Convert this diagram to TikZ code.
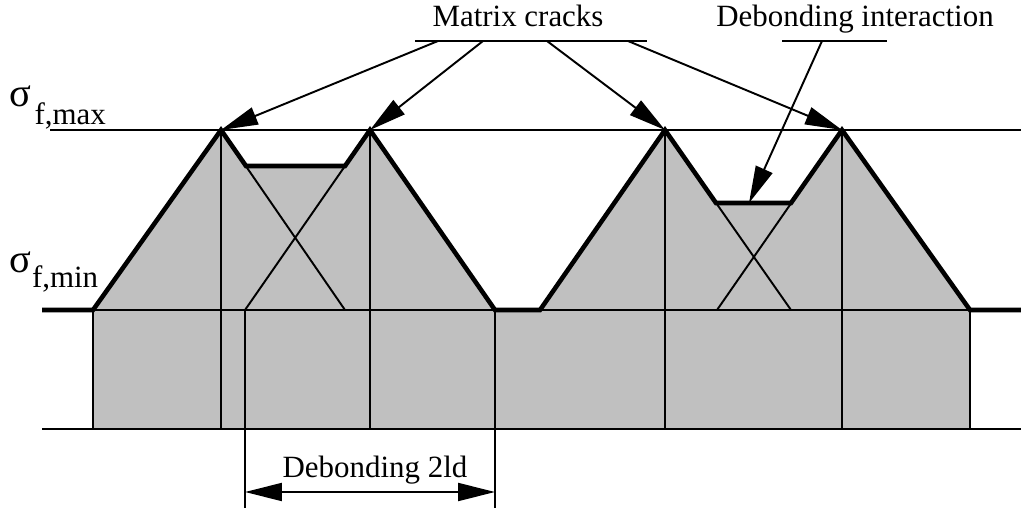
\documentclass[tikz,border=0pt]{standalone}
\usepackage{fontspec}
\setmainfont{Liberation Serif}
\usetikzlibrary{arrows.meta}
\definecolor{fibregray}{RGB}{192,192,192}
\tikzset{
  thinline/.style={line width=1.1pt},
  profile/.style={line width=2.6pt, line join=miter},
  pointer/.style={line width=1.1pt, -{Triangle[length=0.74cm,width=0.36cm]}},
  twoway/.style={line width=1.1pt, {Triangle[length=0.74cm,width=0.36cm]}-{Triangle[length=0.74cm,width=0.36cm]}},
  lbl/.style={inner sep=0pt, font=\fontsize{17.6}{20}\selectfont},
}
\newcommand{\bigsig}{{\fontsize{23}{25}\selectfont σ}}
\begin{document}
\begin{tikzpicture}[x=0.02cm, y=-0.02cm]
  \useasboundingbox (0,0) rectangle (1021,510);
  % stress profile corners
  \coordinate (a0) at (42,310);
  \coordinate (a1) at (93,310);
  \coordinate (p1) at (221,130);
  \coordinate (q1) at (246,166);
  \coordinate (q2) at (345,166);
  \coordinate (p2) at (370,130);
  \coordinate (a2) at (495,310);
  \coordinate (a3) at (540,310);
  \coordinate (p3) at (665,130);
  \coordinate (q3) at (716,203);
  \coordinate (q4) at (791,203);
  \coordinate (p4) at (842,130);
  \coordinate (a4) at (970,310);
  \coordinate (a5) at (1021,310);
  % gray area
  \fill[fibregray] (93,429) -- (a1) -- (p1) -- (q1) -- (q2) -- (p2) -- (a2) -- (a3)
    -- (p3) -- (q3) -- (q4) -- (p4) -- (a4) -- (970,429) -- cycle;
  \draw[thinline] (93,310) -- (93,429);
  \draw[thinline] (970,310) -- (970,429);
  % horizontal levels
  \draw[thinline] (50,130) -- (1021,130);
  \draw[thinline] (42,310) -- (1021,310);
  \draw[thinline] (42,429) -- (1021,429);
  % verticals through the cracks
  \draw[thinline] (p1) -- (221,429);
  \draw[thinline] (p2) -- (370,429);
  \draw[thinline] (p3) -- (665,429);
  \draw[thinline] (p4) -- (842,429);
  \draw[thinline] (245,310) -- (245,508);
  \draw[thinline] (495,310) -- (495,508);
  % crossing slopes
  \draw[thinline] (p1) -- (345,310);
  \draw[thinline] (p2) -- (245,310);
  \draw[thinline] (p3) -- (791,310);
  \draw[thinline] (p4) -- (717,310);
  % profile
  \draw[profile] (a0) -- (a1) -- (p1) -- (q1) -- (q2) -- (p2) -- (a2) -- (a3)
    -- (p3) -- (q3) -- (q4) -- (p4) -- (a4) -- (a5);
  % labels
  \node[lbl, anchor=base west] (smax) at (9,107) {\bigsig\kern2pt\raisebox{-10.2pt}{f,max}};
  \node[lbl, anchor=base west] (smin) at (9,272) {\bigsig\kern0.5pt\raisebox{-9.1pt}{f,min}};
  \node[lbl, anchor=base] (mc) at (518,27) {Matrix cracks};
  \node[lbl, anchor=base] (di) at (855,27) {Debonding interaction};
  \coordinate (mcl) at (415,41);
  \coordinate (mcr) at (647,41);
  \coordinate (dil) at (782,41);
  \coordinate (dir) at (887,41);
  \draw[thinline] (mcl) -- (mcr);
  \draw[thinline] (dil) -- (dir);
  \draw[pointer] (438,41) -- (p1);
  \draw[pointer] (483,41) -- (p2);
  \draw[pointer] (547,41) -- (p3);
  \draw[pointer] (628,41) -- (p4);
  \draw[pointer] (822,41) -- (749,203);
  % debonding length
  \coordinate (d1) at (245,492);
  \coordinate (d2) at (495,492);
  \draw[twoway] (d1) -- (d2);
  \node[lbl, anchor=base] (dl) at (375,477) {Debonding 2ld};
\end{tikzpicture}
\end{document}
